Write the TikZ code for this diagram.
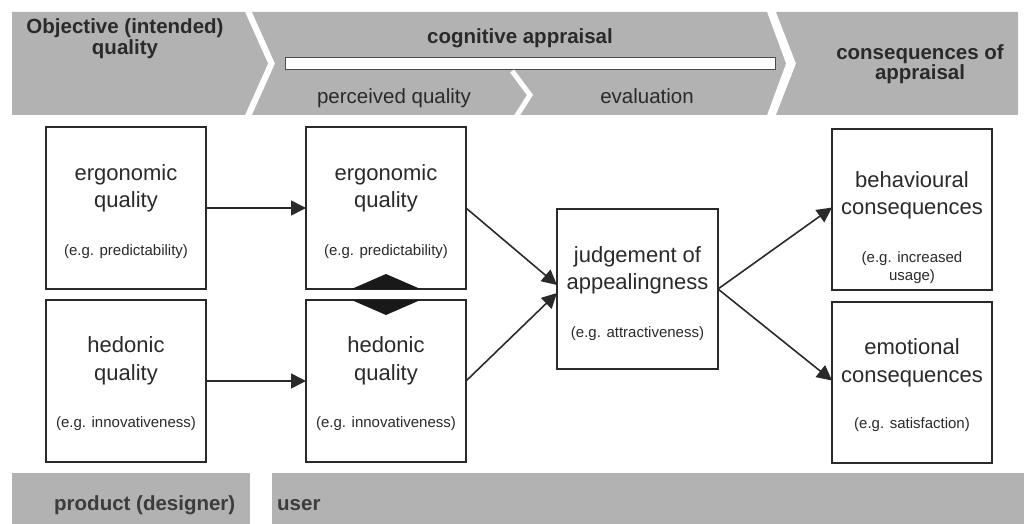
\documentclass[tikz,border=0pt]{standalone}
\usepackage{fontspec}
\setmainfont{Liberation Sans}
\usetikzlibrary{arrows.meta}
\definecolor{bandgray}{HTML}{B2B2B2}
\definecolor{ink}{HTML}{2A2A2A}
\definecolor{softink}{HTML}{3C3C3C}
\begin{document}
\begin{tikzpicture}[x=1pt,y=-1pt,
  band/.style={fill=bandgray},
  box/.style={draw=ink, line width=1.8pt, fill=white, inner sep=0pt, outer sep=0pt,
    minimum width=160pt, minimum height=162pt},
  big/.style={font=\fontsize{22}{26}\selectfont, text=ink, anchor=base, inner sep=0pt},
  small/.style={font=\fontsize{15}{18}\selectfont, text=ink, anchor=base, inner sep=0pt},
  head/.style={font=\bfseries\fontsize{20.5}{24}\selectfont, text=ink, anchor=base, inner sep=0pt},
  subhead/.style={font=\fontsize{20.5}{24}\selectfont, text=ink, anchor=base, inner sep=0pt},
  foot/.style={font=\bfseries\fontsize{20.5}{24}\selectfont, text=softink, anchor=base west, inner sep=0pt},
  link/.style={draw=ink, line width=1.6pt, -{Triangle[length=15pt,width=15pt]}}
]
\useasboundingbox (0,0) rectangle (1024,524);

% header chevrons
\fill[band] (12,12) -- (245,12) -- (268,63.5) -- (245,115) -- (12,115) -- cycle;
\fill[band] (252,12) -- (767,12) -- (786,63.5) -- (767,115) -- (252,115) -- (275,63.5) -- cycle;
\fill[band] (776,12) -- (1018,12) -- (1018,115) -- (776,115) -- (796,63.5) -- cycle;
% bar spanning the appraisal stage and the split between its two parts
\filldraw[fill=white, draw=gray!60!black, line width=0.8pt] (285,57) rectangle (775,69);
\draw[white, line width=5pt] (512,71) -- (530,95) -- (516,117);

% footer bands
\fill[band] (12,473) rectangle (250,524);
\fill[band] (272,473) rectangle (1024,524);

% header texts
\node[head] (h1a) at (125,34) {Objective (intended)};
\node[head] (h1b) at (125,55) {quality};
\node[head] (h2) at (520,44) {cognitive appraisal};
\node[subhead] (h2a) at (394,103) {perceived quality};
\node[subhead] (h2b) at (647,104) {evaluation};
\node[head] (h3a) at (920,60) {consequences of};
\node[head] (h3b) at (920,80) {appraisal};

% footer texts
\node[foot] (f1) at (54,510) {product (designer)};
\node[foot] (f2) at (277,510) {user};

% boxes
\node[box] (l1) at (126,208) {};
\node[box] (l2) at (126,381) {};
\node[box] (m1) at (386,208) {};
\node[box] (m2) at (386,381) {};
\node[box, minimum width=161pt, minimum height=160pt] (c) at (637.5,289) {};
\node[box, minimum height=161pt] (r1) at (912,209.5) {};
\node[box, minimum height=161pt] (r2) at (912,382.5) {};

% interaction marker between the two perceived qualities
\begin{scope}
  \clip (m1.south west) rectangle (m1.north east) (m2.south west) rectangle (m2.north east);
  \fill[black!90] (339,294.5) -- (386,274) -- (433,294.5) -- (386,315) -- cycle;
\end{scope}

% box texts
\node[big] (l1a) at (126,180) {ergonomic};
\node[big] (l1b) at (126,207) {quality};
\node[small] (l1c) at (126,255) {(e.g. predictability)};
\node[big] (l2a) at (126,352) {hedonic};
\node[big] (l2b) at (126,380) {quality};
\node[small] (l2c) at (126,427) {(e.g. innovativeness)};

\node[big] (m1a) at (386,180) {ergonomic};
\node[big] (m1b) at (386,207) {quality};
\node[small] (m1c) at (386,255) {(e.g. predictability)};
\node[big] (m2a) at (386,352) {hedonic};
\node[big] (m2b) at (386,380) {quality};
\node[small] (m2c) at (386,427) {(e.g. innovativeness)};

\node[big] (ca) at (637.5,262) {judgement of};
\node[big] (cb) at (637.5,289) {appealingness};
\node[small] (cc) at (637.5,337) {(e.g. attractiveness)};

\node[big] (r1a) at (912,187) {behavioural};
\node[big] (r1b) at (912,214) {consequences};
\node[small] (r1c) at (912,262) {(e.g. increased};
\node[small] (r1d) at (912,280) {usage)};
\node[big] (r2a) at (912,354) {emotional};
\node[big] (r2b) at (912,382) {consequences};
\node[small] (r2c) at (912,428) {(e.g. satisfaction)};

% connectors
\draw[link] (l1.east) -- (m1.west);
\draw[link] (l2.east) -- (m2.west);
\draw[link] (m1.east) -- ([yshift=4pt]c.west);
\draw[link] (m2.east) -- ([yshift=-4pt]c.west);
\draw[link] (c.east) -- ([yshift=2pt]r1.west);
\draw[link] (c.east) -- ([yshift=2pt]r2.west);
\end{tikzpicture}
\end{document}
